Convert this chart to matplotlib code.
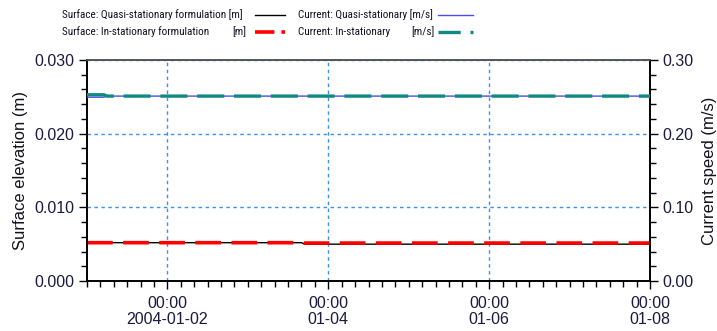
import matplotlib
matplotlib.use("Agg")
import matplotlib.pyplot as plt
import matplotlib.dates as mdates
from matplotlib.lines import Line2D
from matplotlib.ticker import MultipleLocator, FormatStrFormatter
from matplotlib import font_manager
import pandas as pd

plt.rcParams['font.family'] = ['Liberation Sans', 'DejaVu Sans']
plt.rcParams['lines.scale_dashes'] = False

# --- data -------------------------------------------------------------
start = pd.Timestamp("2004-01-01 00:00")
end = pd.Timestamp("2004-01-08 00:00")

# hours after start / values
surf_quasi_h = [0, 64, 65, 168]
surf_quasi_v = [0.0052, 0.0052, 0.0050, 0.0050]

surf_inst_h = [0, 64, 65, 168]
surf_inst_v = [0.0052, 0.0052, 0.00515, 0.00515]

cur_quasi_h = [0, 5, 6, 168]
cur_quasi_v = [0.2495, 0.2495, 0.2510, 0.2510]

cur_inst_h = [0, 5, 6, 168]
cur_inst_v = [0.2528, 0.2528, 0.2510, 0.2510]

xtick_dates = ["2004-01-02", "2004-01-04", "2004-01-06", "2004-01-08"]
xtick_labels = ["00:00\n2004-01-02", "00:00\n01-04", "00:00\n01-06", "00:00\n01-08"]

legend_rows = [
    ("Surface: Quasi-stationary formulation [m]", None, "Current: Quasi-stationary [m/s]", None),
    ("Surface: In-stationary formulation", "[m]", "Current: In-stationary", "[m/s]"),
]


def to_time(hours):
    return start + pd.to_timedelta(hours, unit="h")


# condensed face for the legend if one is available
installed = {f.name for f in font_manager.fontManager.ttflist}
legend_family, legend_size = ['Liberation Sans'], 7.5
for name in ('Liberation Sans Narrow', 'Roboto Condensed', 'Arial Narrow'):
    if name in installed:
        legend_family, legend_size = [name], 8.0
        break

# --- figure -----------------------------------------------------------
W, H = 717, 331
fig = plt.figure(figsize=(W / 100, H / 100), dpi=100)
x0, x1, y0, y1 = 87, 650, 60, 281
ax = fig.add_axes([x0 / W, 1 - y1 / H, (x1 - x0) / W, (y1 - y0) / H])
ax2 = ax.twinx()

tick_color = "#1a1a40"
grid_color = "#3a8ff0"
red = "#ff0000"
teal = "#108a80"
blue = "#4b4bf0"

# surface elevation (left axis)
ax.plot(to_time(surf_quasi_h), surf_quasi_v, color="black", lw=1.0, zorder=3)
ax.plot(to_time(surf_inst_h), surf_inst_v, color=red, lw=2.6,
        dashes=(18.5, 7.5), zorder=4)

# current speed (right axis)
ax2.plot(to_time(cur_quasi_h), cur_quasi_v, color=blue, lw=1.0, zorder=3)
ax2.plot(to_time(cur_inst_h), cur_inst_v, color=teal, lw=2.4,
         dashes=(19.5, 7.0), zorder=4)

ax.set_xlim(start, end)
ax.set_ylim(0, 0.03)
ax2.set_ylim(0, 0.30)

ax.yaxis.set_major_locator(MultipleLocator(0.01))
ax.yaxis.set_minor_locator(MultipleLocator(0.002))
ax.yaxis.set_major_formatter(FormatStrFormatter("%.3f"))
ax2.yaxis.set_major_locator(MultipleLocator(0.10))
ax2.yaxis.set_minor_locator(MultipleLocator(0.02))
ax2.yaxis.set_major_formatter(FormatStrFormatter("%.2f"))

ax.set_xticks(pd.to_datetime(xtick_dates))
ax.set_xticklabels(xtick_labels, linespacing=1.1)
ax.xaxis.set_minor_locator(mdates.HourLocator(byhour=range(0, 24, 4)))

fs = 11.5
for a in (ax, ax2):
    a.tick_params(which="major", length=6, width=1, colors="black",
                  labelcolor=tick_color, labelsize=fs)
    a.tick_params(which="minor", length=4, width=1, colors="black")
ax.tick_params(axis="x", pad=5)
ax.tick_params(axis="y", pad=3)
ax2.tick_params(axis="y", pad=3)

ax.grid(True, which="major", color=grid_color, linestyle=(0, (2.5, 2.5)),
        linewidth=1.0)
ax.set_axisbelow(True)

for a in (ax, ax2):
    for side in ("left", "right", "bottom"):
        a.spines[side].set_color("black")
        a.spines[side].set_linewidth(1.2)
    a.spines["top"].set_color("#555555")
    a.spines["top"].set_linewidth(1.2)

ax.set_ylabel("Surface elevation (m)", fontsize=12, color="#111122", labelpad=5)
ax2.set_ylabel("Current speed (m/s)", fontsize=12, color="#111122", labelpad=6)

# --- legend drawn across the top --------------------------------------
row_y = [15, 32]
styles = [
    (dict(color="black", lw=1.0), dict(color=blue, lw=1.0)),
    (dict(color=red, lw=2.6, dashes=(14, 5, 4, 50)),
     dict(color=teal, lw=2.4, dashes=(16, 7, 4, 50))),
]
txt = dict(fontsize=legend_size, family=legend_family, va="center", ha="left",
           color="#111122")
for (t1, u1, t2, u2), yy, (s1, s2) in zip(legend_rows, row_y, styles):
    fy = 1 - yy / H
    fig.text(62 / W, fy, t1, **txt)
    if u1:
        fig.text(232 / W, fy, u1, **txt)
    fig.text(298 / W, fy, t2, **txt)
    if u2:
        fig.text(411 / W, fy, u2, **txt)
    fig.add_artist(Line2D([255 / W, 285 / W], [fy, fy], transform=fig.transFigure, **s1))
    fig.add_artist(Line2D([438 / W, 473 / W], [fy, fy], transform=fig.transFigure, **s2))

fig.savefig("out.png", dpi=100)
